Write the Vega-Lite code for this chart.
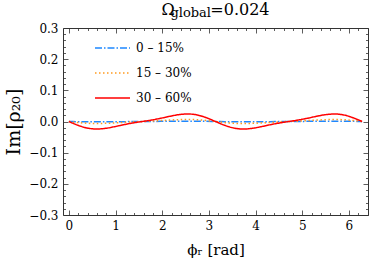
{
  "$schema": "https://vega.github.io/schema/vega-lite/v6.json",
  "autosize": {"type": "none"},
  "padding": {"left": 63, "top": 28, "right": 21, "bottom": 45},
  "width": 305,
  "height": 187,
  "background": "white",
  "title": {
    "text": "Ω\u00a0\u00a0\u00a0\u00a0\u00a0\u00a0\u00a0=0.024",
    "subtitle": "global\u00a0\u00a0\u00a0\u00a0\u00a0\u00a0\u00a0\u00a0\u00a0\u00a0\u00a0\u00a0\u200b",
    "font": "DejaVu Serif",
    "fontSize": 16,
    "fontWeight": "normal",
    "color": "black",
    "subtitleFont": "DejaVu Serif",
    "subtitleFontSize": 13,
    "subtitleColor": "black",
    "subtitlePadding": -11,
    "anchor": "middle",
    "offset": 2
  },
  "data": {"values": [
    {"phi": 0, "0 – 15%": 0, "15 – 30%": 0, "30 – 60%": 0},
    {"phi": 0.1963, "0 – 15%": -0.0006, "15 – 30%": -0.0033, "30 – 60%": -0.0122},
    {"phi": 0.3927, "0 – 15%": -0.0011, "15 – 30%": -0.0057, "30 – 60%": -0.0210},
    {"phi": 0.5890, "0 – 15%": -0.0012, "15 – 30%": -0.0065, "30 – 60%": -0.0241},
    {"phi": 0.7854, "0 – 15%": -0.0011, "15 – 30%": -0.0059, "30 – 60%": -0.0220},
    {"phi": 0.9817, "0 – 15%": -0.0008, "15 – 30%": -0.0045, "30 – 60%": -0.0165},
    {"phi": 1.1781, "0 – 15%": -0.0005, "15 – 30%": -0.0028, "30 – 60%": -0.0102},
    {"phi": 1.3744, "0 – 15%": -0.0002, "15 – 30%": -0.0012, "30 – 60%": -0.0046},
    {"phi": 1.5708, "0 – 15%": 0, "15 – 30%": 0, "30 – 60%": 0},
    {"phi": 1.7671, "0 – 15%": 0.0002, "15 – 30%": 0.0012, "30 – 60%": 0.0046},
    {"phi": 1.9635, "0 – 15%": 0.0005, "15 – 30%": 0.0028, "30 – 60%": 0.0102},
    {"phi": 2.1598, "0 – 15%": 0.0008, "15 – 30%": 0.0045, "30 – 60%": 0.0165},
    {"phi": 2.3562, "0 – 15%": 0.0011, "15 – 30%": 0.0059, "30 – 60%": 0.0220},
    {"phi": 2.5525, "0 – 15%": 0.0012, "15 – 30%": 0.0065, "30 – 60%": 0.0241},
    {"phi": 2.7489, "0 – 15%": 0.0011, "15 – 30%": 0.0057, "30 – 60%": 0.0210},
    {"phi": 2.9452, "0 – 15%": 0.0006, "15 – 30%": 0.0033, "30 – 60%": 0.0122},
    {"phi": 3.1416, "0 – 15%": 0, "15 – 30%": 0, "30 – 60%": 0},
    {"phi": 3.3379, "0 – 15%": -0.0006, "15 – 30%": -0.0033, "30 – 60%": -0.0122},
    {"phi": 3.5343, "0 – 15%": -0.0011, "15 – 30%": -0.0057, "30 – 60%": -0.0210},
    {"phi": 3.7306, "0 – 15%": -0.0012, "15 – 30%": -0.0065, "30 – 60%": -0.0241},
    {"phi": 3.9270, "0 – 15%": -0.0011, "15 – 30%": -0.0059, "30 – 60%": -0.0220},
    {"phi": 4.1233, "0 – 15%": -0.0008, "15 – 30%": -0.0045, "30 – 60%": -0.0165},
    {"phi": 4.3197, "0 – 15%": -0.0005, "15 – 30%": -0.0028, "30 – 60%": -0.0102},
    {"phi": 4.5160, "0 – 15%": -0.0002, "15 – 30%": -0.0012, "30 – 60%": -0.0046},
    {"phi": 4.7124, "0 – 15%": 0, "15 – 30%": 0, "30 – 60%": 0},
    {"phi": 4.9087, "0 – 15%": 0.0002, "15 – 30%": 0.0012, "30 – 60%": 0.0046},
    {"phi": 5.1051, "0 – 15%": 0.0005, "15 – 30%": 0.0028, "30 – 60%": 0.0102},
    {"phi": 5.3014, "0 – 15%": 0.0008, "15 – 30%": 0.0045, "30 – 60%": 0.0165},
    {"phi": 5.4978, "0 – 15%": 0.0011, "15 – 30%": 0.0059, "30 – 60%": 0.0220},
    {"phi": 5.6941, "0 – 15%": 0.0012, "15 – 30%": 0.0065, "30 – 60%": 0.0241},
    {"phi": 5.8905, "0 – 15%": 0.0011, "15 – 30%": 0.0057, "30 – 60%": 0.0210},
    {"phi": 6.0868, "0 – 15%": 0.0006, "15 – 30%": 0.0033, "30 – 60%": 0.0122},
    {"phi": 6.2832, "0 – 15%": 0, "15 – 30%": 0, "30 – 60%": 0}
  ]},
  "transform": [
    {"fold": ["0 – 15%", "15 – 30%", "30 – 60%"], "as": ["group", "value"]}
  ],
  "layer": [
    {
      "mark": {"type": "line", "interpolate": "monotone", "clip": true},
      "encoding": {
        "x": {
          "field": "phi", "type": "quantitative",
          "scale": {"domain": [-0.126, 6.41], "nice": false, "zero": false},
          "axis": {
            "orient": "bottom",
            "title": "ϕᵣ [rad]",
            "titleFont": "DejaVu Serif",
            "titleFontSize": 15,
            "titleFontWeight": "normal",
            "titleColor": "black",
            "titlePadding": 11,
            "values": [0,0.2,0.4,0.6,0.8,1,1.2,1.4,1.6,1.8,2,2.2,2.4,2.6,2.8,3,3.2,3.4,3.6,3.8,4,4.2,4.4,4.6,4.8,5,5.2,5.4,5.6,5.8,6,6.2,6.4],
            "labelExpr": "datum.value % 1 === 0 ? format(datum.value, 'd') : ''",
            "tickSize": {"condition": {"test": "datum.value % 1 === 0", "value": -5}, "value": -2.5},
            "labelPadding": 10
          }
        },
        "y": {
          "field": "value", "type": "quantitative",
          "scale": {"domain": [-0.3, 0.3], "nice": false},
          "axis": {
            "orient": "left",
            "title": "Im[ρ₂₀]",
            "titleFont": "DejaVu Serif",
            "titleFontSize": 19,
            "titleFontWeight": "normal",
            "titleColor": "black",
            "titlePadding": 5,
            "values": [-0.3,-0.28,-0.26,-0.24,-0.22,-0.2,-0.18,-0.16,-0.14,-0.12,-0.1,-0.08,-0.06,-0.04,-0.02,0,0.02,0.04,0.06,0.08,0.1,0.12,0.14,0.16,0.18,0.2,0.22,0.24,0.26,0.28,0.3],
            "labelExpr": "abs(datum.value*10 - round(datum.value*10)) < 0.001 ? format(datum.value, '.1f') : ''",
            "tickSize": {"condition": {"test": "abs(datum.value*10 - round(datum.value*10)) < 0.001", "value": -5}, "value": -2.5},
            "labelPadding": 10
          }
        },
        "color": {
          "field": "group", "type": "nominal",
          "scale": {"domain": ["0 – 15%", "15 – 30%", "30 – 60%"], "range": ["#1e88ff", "#ff9a1f", "#ff0000"]},
          "legend": {
            "title": null,
            "orient": "none",
            "legendX": 31,
            "legendY": 1.5,
            "padding": 0,
            "symbolType": "stroke",
            "symbolSize": 1225,
            "labelFont": "DejaVu Serif",
            "labelFontSize": 12,
            "labelColor": "black",
            "rowPadding": -16,
            "labelOffset": 5
          }
        },
        "strokeDash": {
          "field": "group", "type": "nominal",
          "scale": {"domain": ["0 – 15%", "15 – 30%", "30 – 60%"], "range": [[7, 2, 1.5, 2], [1.5, 2.5], [1, 0]]},
          "legend": null
        },
        "strokeWidth": {
          "field": "group", "type": "nominal",
          "scale": {"domain": ["0 – 15%", "15 – 30%", "30 – 60%"], "range": [1.5, 1.5, 2]},
          "legend": null
        }
      }
    },
    {
      "mark": {"type": "line", "strokeOpacity": 0},
      "encoding": {
        "x": {
          "field": "phi", "type": "quantitative",
          "axis": {
            "orient": "top", "title": null, "labels": false, "domain": false,
            "values": [0,0.2,0.4,0.6,0.8,1,1.2,1.4,1.6,1.8,2,2.2,2.4,2.6,2.8,3,3.2,3.4,3.6,3.8,4,4.2,4.4,4.6,4.8,5,5.2,5.4,5.6,5.8,6,6.2,6.4],
            "tickSize": {"condition": {"test": "datum.value % 1 === 0", "value": -5}, "value": -2.5}
          }
        },
        "y": {
          "field": "value", "type": "quantitative",
          "axis": {
            "orient": "right", "title": null, "labels": false, "domain": false,
            "values": [-0.3,-0.28,-0.26,-0.24,-0.22,-0.2,-0.18,-0.16,-0.14,-0.12,-0.1,-0.08,-0.06,-0.04,-0.02,0,0.02,0.04,0.06,0.08,0.1,0.12,0.14,0.16,0.18,0.2,0.22,0.24,0.26,0.28,0.3],
            "tickSize": {"condition": {"test": "abs(datum.value*10 - round(datum.value*10)) < 0.001", "value": -5}, "value": -2.5}
          }
        }
      }
    }
  ],
  "resolve": {"axis": {"x": "independent", "y": "independent"}},
  "config": {
    "view": {"stroke": "#333333", "strokeWidth": 1},
    "axis": {
      "grid": false,
      "domain": false,
      "tickColor": "#333333",
      "tickWidth": 0.8,
      "labelFont": "DejaVu Serif",
      "labelFontSize": 12,
      "labelColor": "black"
    }
  }
}
